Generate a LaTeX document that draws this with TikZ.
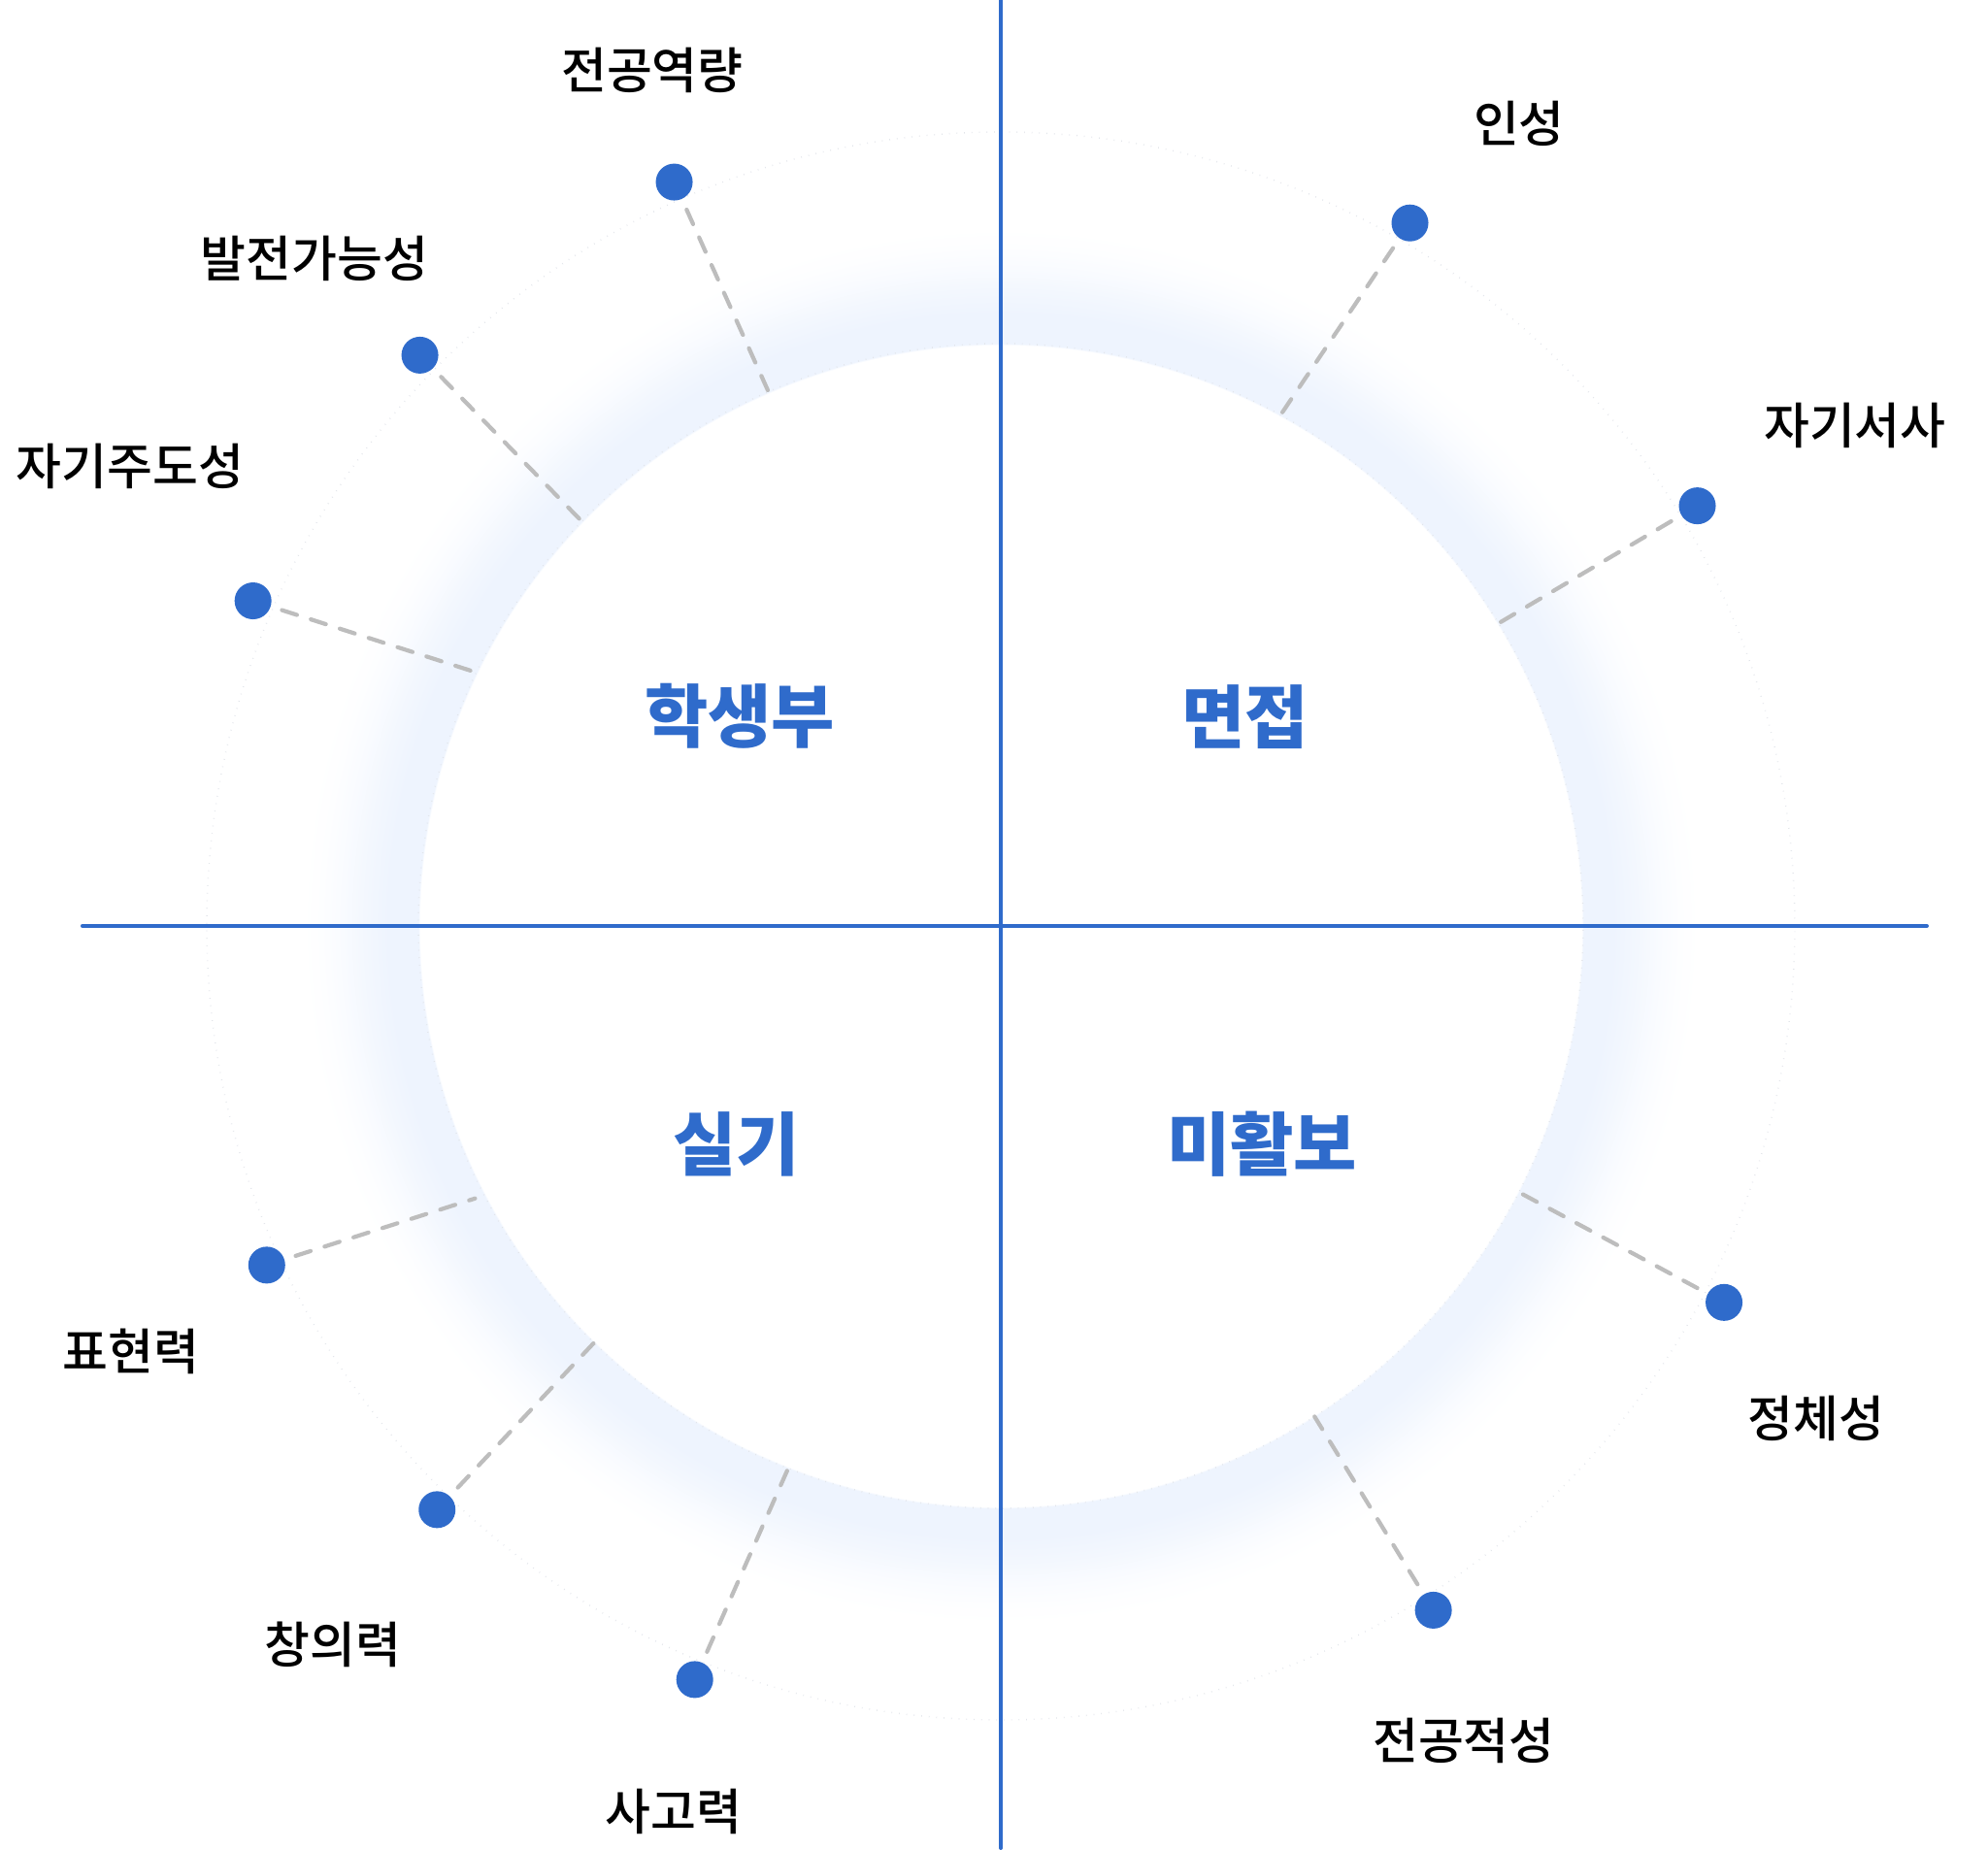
\documentclass[tikz,border=0pt]{standalone}
\usepackage{fontspec}
\setmainfont{Noto Sans CJK KR}
\newfontfamily\labelfont{Noto Sans CJK KR Medium}
\usepackage{tkz-euclide}
\usetikzlibrary{calc}

\definecolor{mainblue}{HTML}{2F6BCB}
\definecolor{glowblue}{HTML}{EEF4FE}
\definecolor{dashgray}{HTML}{BDBDBD}
\definecolor{faintgray}{HTML}{E2E5EA}

\pgfdeclareradialshading{glowring}{\pgfpoint{0bp}{0bp}}{%
  color(0bp)=(white);color(18.7bp)=(white);color(18.75bp)=(glowblue);
  color(19.7bp)=(glowblue);color(20.5bp)=(glowblue!70!white);
  color(21.2bp)=(glowblue!35!white);color(21.9bp)=(glowblue!10!white);
  color(22.5bp)=(white);color(50bp)=(white)}

\tikzset{
  lbl/.style={font=\labelfont\fontsize{14.5}{17}\selectfont,text=black,inner sep=0pt},
  area/.style={font=\fontsize{20.2}{24}\selectfont\bfseries,text=mainblue,inner sep=0pt}
}

\begin{document}
\begin{tikzpicture}
\useasboundingbox (-10.31,-9.52) rectangle (10.17,9.54);
\fill[white] (-10.31,-9.52) rectangle (10.17,9.54);

\tkzDefPoints{0/0/O,6/0/I,8.18/0/R}
\tkzDefPoints{-9.46/0/XW,9.54/0/XE,0/9.54/YN,0/-9.5/YS}

% dots on the outer circle
\tkzDefPoint(113.7:8.37){A}
\tkzDefPoint(135.5:8.39){B}
\tkzDefPoint(156.5:8.40){C}
\tkzDefPoint(59.8:8.38){D}
\tkzDefPoint(31.1:8.38){E}
\tkzDefPoint(-27.5:8.40){F}
\tkzDefPoint(-57.7:8.34){G}
\tkzDefPoint(204.8:8.33){H}
\tkzDefPoint(226.0:8.36){K}
\tkzDefPoint(247.9:8.38){L}

% feet on the inner circle
\tkzDefPoint(113.5:6){FA}
\tkzDefPoint(136.0:6){FB}
\tkzDefPoint(154.2:6){FC}
\tkzDefPoint(61.3:6){FD}
\tkzDefPoint(31.3:6){FE}
\tkzDefPoint(-27.2:6){FF}
\tkzDefPoint(-57.4:6){FG}
\tkzDefPoint(207.4:6.1){FH}
\tkzDefPoint(225.7:6){FK}
\tkzDefPoint(248.6:6){FL}

\shade[shading=glowring] (O) circle (8);
\tkzDrawCircle[color=faintgray,dotted,line width=0.4pt](O,R)
\tkzDrawCircle[color=faintgray,dotted,line width=0.4pt](O,I)

\tkzDrawSegments[color=dashgray,line width=1.2pt,dash pattern=on 4.6pt off 4.3pt](A,FA B,FB C,FC D,FD E,FE F,FF G,FG H,FH K,FK L,FL)
\tkzDrawSegments[color=mainblue,line width=1.15pt](XW,XE YN,YS)

\foreach \p in {A,B,C,D,E,F,G,H,K,L}
  \fill[mainblue] (\p) circle (0.19);

\node[lbl] (tA) at (-3.59,8.82) {전공역량};
\node[lbl] (tB) at (-7.07,6.88) {발전가능성};
\node[lbl] (tC) at (-8.97,4.74) {자기주도성};
\node[lbl] (tD) at (5.34,8.27) {인성};
\node[lbl] (tE) at (8.80,5.16) {자기서사};
\node[lbl] (tF) at (8.40,-5.07) {정체성};
\node[lbl] (tG) at (4.77,-8.39) {전공적성};
\node[lbl] (tH) at (-8.96,-4.38) {표현력};
\node[lbl] (tK) at (-6.88,-7.40) {창의력};
\node[lbl] (tL) at (-3.37,-9.12) {사고력};

\node[area] (q1) at (-2.69,2.16) {학생부};
\node[area] (q2) at (2.52,2.15) {면접};
\node[area] (q3) at (-2.72,-2.25) {실기};
\node[area] (q4) at (2.69,-2.25) {미활보};

\end{tikzpicture}
\end{document}
